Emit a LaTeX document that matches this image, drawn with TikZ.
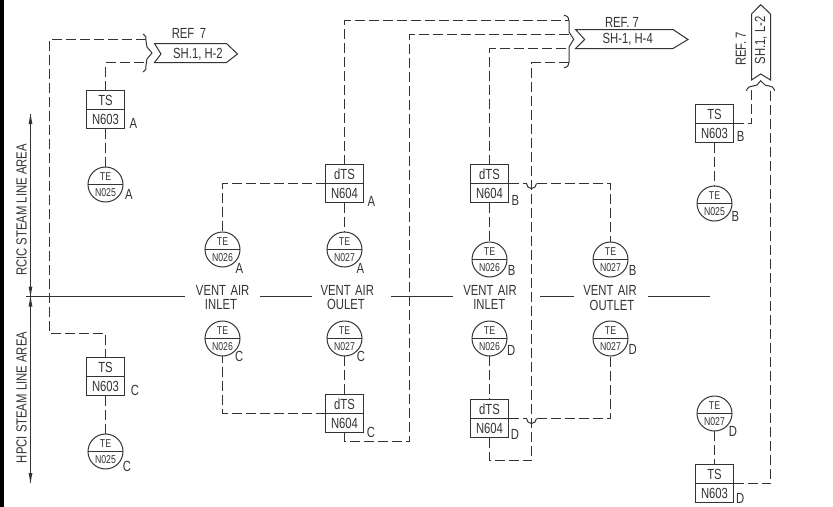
\documentclass[tikz,border=0pt]{standalone}
\usepackage{fontspec}
\setmainfont{Liberation Sans}[FakeStretch=0.77]
\definecolor{ink}{HTML}{333333}
\tikzset{
  x=0.75pt,y=-0.75pt,
  solidline/.style={draw=ink,line width=0.75pt},
  dashline/.style={draw=ink,line width=0.75pt,dash pattern=on 7.5pt off 3pt},
  instbox/.style={draw=ink,line width=0.75pt,minimum width=28.5pt,minimum height=28.5pt,inner sep=0pt,outer sep=0pt},
  instcirc/.style={draw=ink,line width=0.75pt,circle,minimum size=26.25pt,inner sep=0pt,outer sep=0pt},
  txt/.style={text=ink,font=\fontsize{11}{12}\selectfont,inner sep=0pt,outer sep=0pt},
  smalltxt/.style={text=ink,font=\fontsize{8.5}{9}\selectfont,inner sep=0pt,outer sep=0pt},
  flag/.style={draw=ink,line width=0.75pt,line join=miter},
}
\newcommand{\instb}[6]{%
  \node[instbox] (#1) at (#2,#3) {};
  \draw[solidline] (#1.west) -- (#1.east);
  \node[txt] (#1t) at ([yshift=7.1pt]#1.center) {#4};
  \node[txt] (#1b) at ([yshift=-7.1pt]#1.center) {#5};
  #6}
\newcommand{\instc}[5]{%
  \node[instcirc] (#1) at (#2,#3) {};
  \draw[solidline] (#1.west) -- (#1.east);
  \node[smalltxt] (#1t) at ([yshift=6.2pt]#1.center) {#4};
  \node[smalltxt] (#1b) at ([yshift=-6.2pt]#1.center) {#5};}
\begin{document}
\begin{tikzpicture}
\useasboundingbox (0,0) rectangle (833,507);
\fill[black] (0,0) rectangle (4,507);
% ---- instruments
\instb{tsA}{105.5}{109.5}{TS}{N603}{\node[txt] (lA1) at (133.3,123.3) {A};}
\instc{teA}{105.5}{184.5}{TE}{N025}
\node[txt] (lA2) at (129,194) {A};
\instb{tsC}{105.5}{376.5}{TS}{N603}{\node[txt] (lC1) at (135,390) {C};}
\instc{teC}{105.5}{451.5}{TE}{N025}
\node[txt] (lC2) at (127,466.7) {C};
\instc{t26A}{222.5}{249.5}{TE}{N026}
\node[txt] (lA3) at (239.3,268.3) {A};
\instc{t26C}{222.5}{338.5}{TE}{N026}
\node[txt] (lC3) at (239.3,356.7) {C};
\instc{t27A}{344.5}{249.5}{TE}{N027}
\node[txt] (lA4) at (360.3,268.3) {A};
\instc{t27C}{344.5}{338.5}{TE}{N027}
\node[txt] (lC4) at (361,356.7) {C};
\instb{dA}{344.5}{183.5}{dTS}{N604}{\node[txt] (lA5) at (371.3,201.7) {A};}
\instb{dB}{489.5}{183.5}{dTS}{N604}{\node[txt] (lB1) at (515.3,200) {B};}
\instb{dC}{344.5}{413.5}{dTS}{N604}{\node[txt] (lC5) at (371,432.7) {C};}
\instb{dD}{489.5}{418.5}{dTS}{N604}{\node[txt] (lD1) at (515,434.3) {D};}
\instc{t26B}{489.5}{259.5}{TE}{N026}
\node[txt] (lB2) at (511.7,270.7) {B};
\instc{t26D}{489.5}{338.5}{TE}{N026}
\node[txt] (lD2) at (511.3,350) {D};
\instc{t27B}{610.5}{259.5}{TE}{N027}
\node[txt] (lB3) at (632.7,270) {B};
\instc{t27D}{610.5}{338.5}{TE}{N027}
\node[txt] (lD3) at (632.7,349.3) {D};
\instb{tsB}{714.5}{123.5}{TS}{N603}{\node[txt] (lB4) at (740.7,136.7) {B};}
\instc{teB}{714.5}{203.5}{TE}{N025}
\node[txt] (lB5) at (735.3,216) {B};
\instc{t27E}{714.5}{413.5}{TE}{N027}
\node[txt] (lD4) at (733,431.3) {D};
\instb{tsD}{714.5}{483.5}{TS}{N603}{\node[txt] (lD5) at (740.3,498) {D};}
% ---- flags
\draw[flag] (154.5,43.5) -- (226.5,43.5) -- (237.5,54) -- (226.5,62.5) -- (154.5,62.5) -- (161,54) -- cycle;
\node[txt] (ref1) at (189,33) {REF\, 7};
\node[txt] (sh1) at (198,54) {SH.1, H-2};
\draw[flag] (575.5,29.5) -- (673,29.5) -- (688,39.5) -- (673,48.5) -- (575.5,48.5) -- (584.7,39.5) -- cycle;
\node[txt] (ref2) at (622,22) {REF. 7};
\node[txt] (sh2) at (627.7,39.5) {SH-1, H-4};
\draw[flag] (751.5,80) -- (751.5,14) -- (760.7,4.7) -- (770.5,14) -- (770.5,80) -- (760.7,74) -- cycle;
\node[txt,rotate=90] (ref3) at (740.7,49) {REF. 7};
\node[txt,rotate=90] (sh3) at (761,40.5) {SH.1, L-2};
% ---- braces
\draw[solidline] (143,34) .. controls (146,35) and (146,37) .. (146,41) -- (147,47) -- (152,53) -- (147,59) -- (146,65) .. controls (146,69) and (146,71) .. (143,72);
\draw[solidline] (564,15.3) .. controls (568,16) and (569,18) .. (569,21) -- (569,32) -- (573.7,39.3) -- (569,47) -- (569,62) .. controls (569,65) and (568,67) .. (564,67.7);
\draw[solidline] (746.3,90.7) .. controls (748,87) and (750,86) .. (753,86) -- (757,85) -- (760.7,80.7) -- (765,85) -- (769,86) .. controls (772,86) and (773,87) .. (774.7,90.7);
\coordinate (brA) at (146,39.5);
\coordinate (brB) at (146,62.5);
\coordinate (brC) at (569,20.5);
\coordinate (brD) at (569,34.5);
\coordinate (brE) at (569,48.5);
\coordinate (brF) at (569,62.5);
\coordinate (brG) at (751.5,87);
\coordinate (brH) at (770.5,87);
% ---- connectors
\draw[dashline] (brA) -| (49.5,150) |- (105.5,333.5) -- (tsC.north);
\draw[dashline] (tsA.north) |- (brB);
\draw[dashline] (tsA.south) -- (teA.north);
\draw[dashline] (tsC.south) -- (teC.north);
\draw[dashline] (dA.west) -| (t26A.north);
\draw[dashline] (dC.west) -| (t26C.south);
\draw[dashline] (dA.north) |- (brC);
\draw[dashline] (dA.south) -- (t27A.north);
\draw[dashline] (t27C.south) -- (dC.north);
\draw[dashline] (dC.south) |- (409.5,441.5) -- (409.5,34.5) -- (brD);
\draw[dashline] (dB.north) |- (brE);
\draw[dashline] (dB.south) -- (t26B.north);
\draw[dashline] (t26D.south) -- (dD.north);
\draw[dashline] (dD.south) |- (531.5,460.5) -- (531.5,62.5) -- (brF);
\draw[dashline] (dB.east) -- (526.5,183.5);
\draw[solidline] (526.5,183.5) arc[start angle=180,end angle=0,radius=5];
\draw[dashline] (536.5,183.5) -- (610.5,183.5) -- (t27B.north);
\draw[dashline] (dD.east) -- (526.5,418.5);
\draw[solidline] (526.5,418.5) arc[start angle=180,end angle=0,radius=5];
\draw[dashline] (536.5,418.5) -- (610.5,418.5) -- (t27D.south);
\draw[dashline] (tsB.east) -| (brG);
\draw[dashline] (tsB.south) -- (teB.north);
\draw[dashline] (t27E.south) -- (tsD.north);
\draw[dashline] (tsD.east) -| (brH);
% ---- area arrows
\coordinate (arT) at (30.5,114);
\coordinate (arM) at (30.5,296.5);
\coordinate (arB) at (30.5,483);
\draw[solidline] (arT) -- (arB);
\fill[ink] (arT) -- ++(1.9,10) -- ++(-3.8,0) -- cycle;
\fill[ink] (arM) -- ++(1.9,-10) -- ++(-3.8,0) -- cycle;
\fill[ink] (arM) -- ++(1.9,10) -- ++(-3.8,0) -- cycle;
\fill[ink] (arB) -- ++(1.9,-10) -- ++(-3.8,0) -- cycle;
\node[txt,rotate=90] (rcic) at (21.7,210) {RCIC STEAM LINE AREA};
\node[txt,rotate=90] (hpci) at (21.7,397.5) {HPCI STEAM LINE AREA};
% ---- main line
\foreach \a/\b in {26/185,259.5/311.5,390.5/452.5,540/573.5,648/709.5}
  \draw[solidline] (\a,296.5) -- (\b,296.5);
\node[txt] (v1) at (222.7,290) {VENT\hspace{1pt} AIR};
\node[txt] (v1b) at (221,304) {INLET};
\node[txt] (v2) at (347.3,290) {VENT\hspace{1pt} AIR};
\node[txt] (v2b) at (346,304) {OULET};
\node[txt] (v3) at (490,290) {VENT\hspace{1pt} AIR};
\node[txt] (v3b) at (489.3,304) {INLET};
\node[txt] (v4) at (610,290) {VENT\hspace{1pt} AIR};
\node[txt] (v4b) at (612,305) {OUTLET};
\end{tikzpicture}
\end{document}
